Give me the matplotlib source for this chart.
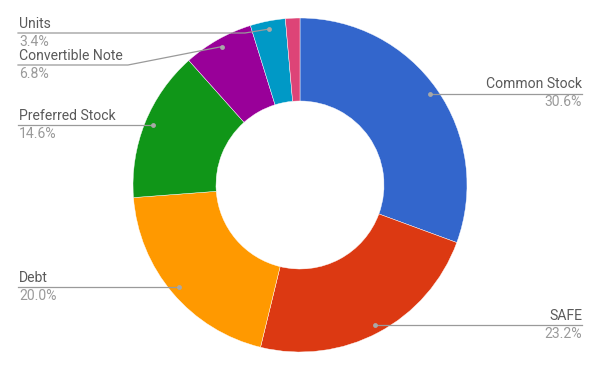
import matplotlib
matplotlib.use("Agg")
import matplotlib.pyplot as plt
import numpy as np

categories = ["Common Stock", "SAFE", "Debt", "Preferred Stock", "Convertible Note", "Units", "Other"]
values = [30.6, 23.2, 20.0, 14.6, 6.8, 3.4, 1.4]
show_label = [True, True, True, True, True, True, False]
colors = ["#3366cc", "#dc3912", "#ff9900", "#109618", "#990099", "#0099c6", "#dd4477"]

W, H = 600, 371
plt.rcParams['font.family'] = ['Roboto', 'DejaVu Sans']
fig = plt.figure(figsize=(W / 100, H / 100), dpi=100)
ax = fig.add_axes([0, 0, 1, 1])

cx, cy = 300, H - 185
R_out, R_in = 167, 84
ax.pie(values, colors=colors, startangle=90, counterclock=False,
       radius=R_out, center=(cx, cy),
       wedgeprops=dict(width=R_out - R_in, edgecolor="white", linewidth=0.3))
ax.set_xlim(0, W)
ax.set_ylim(0, H)
ax.set_aspect("equal")
ax.axis("off")

# label layout: side and leader-line y (pixels from top), elbow x for slanted leaders
layout = {
    "Common Stock": ("right", 94, None),
    "SAFE": ("right", 325, None),
    "Debt": ("left", 287, None),
    "Preferred Stock": ("left", 125, None),
    "Convertible Note": ("left", 65, 128),
    "Units": ("left", 33, 245),
}
line_col = "#9a9a9a"
lab_col = "#5a5a5a"
pct_col = "#9a9a9a"
fs = 10.1
x_left, x_right = 18, 582

total = sum(values)
cum = 0.0
for cat, v, show in zip(categories, values, show_label):
    mid = cum + v / 2
    cum += v
    if not show:
        continue
    th = np.deg2rad(90 - 360 * mid / total)
    dx, dy = cx + 159 * np.cos(th), cy + 159 * np.sin(th)
    side, ly, elbow = layout[cat]
    LY = H - ly
    if side == "right":
        ax.plot([dx, x_right], [LY, LY], color=line_col, lw=0.9, zorder=3)
        ax.text(x_right, LY + 2.5, cat, ha="right", va="bottom", fontsize=fs, color=lab_col)
        ax.text(x_right, LY - 1.5, f"{v:.1f}%", ha="right", va="top", fontsize=fs, color=pct_col)
    else:
        if elbow is None:
            ax.plot([x_left, dx], [LY, LY], color=line_col, lw=0.9, zorder=3)
        else:
            ax.plot([x_left, elbow, dx], [LY, LY, dy], color=line_col, lw=0.9, zorder=3)
        ax.text(x_left + 1, LY + 2.5, cat, ha="left", va="bottom", fontsize=fs, color=lab_col)
        ax.text(x_left + 1, LY - 1.5, f"{v:.1f}%", ha="left", va="top", fontsize=fs, color=pct_col)
    ax.plot([dx], [dy if elbow is not None else LY], "o", ms=3.5, color="#a8a8a8", mec="none", zorder=4)

fig.savefig("out.png", dpi=100)
